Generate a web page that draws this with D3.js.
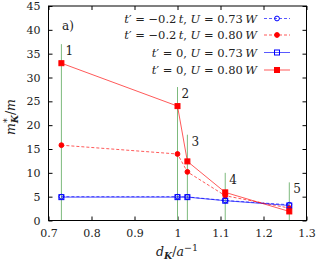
<!DOCTYPE html>
<html>
<head>
<meta charset="utf-8">
<script src="https://cdn.jsdelivr.net/npm/d3@7"></script>
<style>
  body { margin: 0; background: #fff; }
  svg text { font-family: "DejaVu Serif", serif !important; }
</style>
</head>
<body>
<div class="canva"></div>
<script>
// distances d_K (a^-1) for the five K points
const dK = [0.73, 1.0, 1.023, 1.111, 1.26];
const pointLabels = ["1", "2", "3", "4", "5"];
const markerTops = [37, 28, 18, 10, 8];

const massTm02U073 = [5.0, 5.0, 4.95, 4.2, 3.3];
const massTm02U080 = [15.8, 13.95, 10.2, 5.2, 2.6];
const massT0U073 = [4.9, 4.9, 4.9, 4.15, 3.15];
const massT0U080 = [33.0, 24.0, 12.4, 5.9, 1.9];

const xTicks = [0.7, 0.8, 0.9, 1, 1.1, 1.2, 1.3];
const yTicks = [0, 5, 10, 15, 20, 25, 30, 35, 40, 45];

const series = [
    {tp: "\u22120.2\u2009", tUnit: true, u: "0.73", values: massTm02U073, color: "#0000ff", dash: "3,2", symbol: "circle", filled: false},
    {tp: "\u22120.2\u2009", tUnit: true, u: "0.80", values: massTm02U080, color: "#ff0000", dash: "3,2", symbol: "circle", filled: true},
    {tp: "0", tUnit: false, u: "0.73", values: massT0U073, color: "#0000ff", dash: null, symbol: "square", filled: false},
    {tp: "0", tUnit: false, u: "0.80", values: massT0U080, color: "#ff0000", dash: null, symbol: "square", filled: true}
];

const svg = d3.select(".canva").append("svg")
    .attr("width", 318)
    .attr("height", 264);

const margin = {top: 6, right: 11.5, bottom: 43.5, left: 48.5};
const width = 318 - margin.left - margin.right;
const height = 264 - margin.top - margin.bottom;

const graph = svg.append("g")
    .attr("transform", `translate(${margin.left}, ${margin.top})`);

const x = d3.scaleLinear().domain([0.7, 1.3]).range([0, width]);
const y = d3.scaleLinear().domain([0, 45]).range([height, 0]);

// axes with inward ticks, mirrored on top and right
const styleAxis = g => {
    g.select(".domain").remove();
    g.selectAll(".tick line").attr("stroke", "#000");
    g.selectAll("text").style("font-size", "11px").attr("fill", "#222");
};

graph.append("g")
    .attr("transform", `translate(0, ${height})`)
    .call(d3.axisBottom(x).tickValues(xTicks).tickSize(-4).tickPadding(9)
        .tickFormat(d => d3.format("")(+d.toFixed(1))))
    .call(styleAxis);

graph.append("g")
    .call(d3.axisTop(x).tickValues(xTicks).tickSize(-4).tickFormat(""))
    .call(styleAxis);

graph.append("g")
    .call(d3.axisLeft(y).tickValues(yTicks).tickSize(-4).tickPadding(8))
    .call(styleAxis);

graph.append("g")
    .attr("transform", `translate(${width}, 0)`)
    .call(d3.axisRight(y).tickValues(yTicks).tickSize(-4).tickFormat(""))
    .call(styleAxis);

// vertical markers of the K points
graph.selectAll(".kline")
    .data(dK)
    .enter()
    .append("line")
    .attr("class", "kline")
    .attr("x1", d => x(d))
    .attr("x2", d => x(d))
    .attr("y1", y(0))
    .attr("y2", (d, i) => y(markerTops[i]))
    .attr("stroke", "#7dba7d")
    .attr("stroke-width", 1);

graph.selectAll(".klabel")
    .data(dK)
    .enter()
    .append("text")
    .attr("class", "klabel")
    .attr("x", d => x(d) + 4)
    .attr("y", (d, i) => y(markerTops[i]) + 11)
    .attr("fill", "#222")
    .style("font-size", "12px")
    .text((d, i) => pointLabels[i]);

const line = d3.line()
    .x((d, i) => x(dK[i]))
    .y(d => y(d));

const drawSymbol = (sel, s, px, py) => {
    if (s.symbol === "circle") {
        sel.append("circle")
            .attr("cx", px).attr("cy", py).attr("r", 2.4)
            .attr("fill", s.filled ? s.color : "none")
            .attr("stroke", s.color).attr("stroke-width", 1);
    } else {
        sel.append("rect")
            .attr("x", px - 2.5).attr("y", py - 2.5)
            .attr("width", 5).attr("height", 5)
            .attr("fill", s.filled ? s.color : "none")
            .attr("stroke", s.color).attr("stroke-width", 1);
    }
};

series.forEach(s => {
    graph.append("path")
        .datum(s.values)
        .attr("d", line)
        .attr("fill", "none")
        .attr("stroke", s.color)
        .attr("stroke-opacity", 0.65)
        .attr("stroke-width", 1)
        .attr("stroke-dasharray", s.dash);
    const g = graph.append("g");
    s.values.forEach((v, i) => drawSymbol(g, s, x(dK[i]), y(v)));
});

// frame
graph.append("rect")
    .attr("width", width)
    .attr("height", height)
    .attr("fill", "none")
    .attr("stroke", "#000")
    .attr("stroke-width", 1);

// legend
const legendY = [18.5, 35, 52.5, 70];
series.forEach((s, i) => {
    const ly = legendY[i];
    const t = svg.append("text")
        .attr("x", 257)
        .attr("y", ly + 4)
        .attr("text-anchor", "end")
        .attr("fill", "#222")
        .style("font-size", "11.5px");
    t.append("tspan").style("font-style", "italic").text("t");
    t.append("tspan").text("\u2032 = " + s.tp);
    if (s.tUnit) t.append("tspan").style("font-style", "italic").text("t");
    t.append("tspan").text(", ");
    t.append("tspan").style("font-style", "italic").text("U");
    t.append("tspan").text(" = " + s.u + "\u2009");
    t.append("tspan").style("font-style", "italic").text("W");

    svg.append("line")
        .attr("x1", 264).attr("x2", 290)
        .attr("y1", ly).attr("y2", ly)
        .attr("stroke", s.color)
        .attr("stroke-opacity", 0.65)
        .attr("stroke-dasharray", s.dash);
    drawSymbol(svg.append("g"), s, 277, ly);
});

svg.append("text")
    .attr("x", 62)
    .attr("y", 30)
    .attr("fill", "#222")
    .style("font-size", "12px")
    .text("a)");

// axis titles
const yt = svg.append("text")
    .attr("transform", "translate(15, 117) rotate(-90)")
    .attr("text-anchor", "middle")
    .attr("fill", "#222")
    .style("font-size", "12.5px");
yt.append("tspan").style("font-style", "italic").text("m");
yt.append("tspan").attr("dy", -5).style("font-size", "9.5px").text("*");
yt.append("tspan").attr("dx", -5).attr("dy", 8).style("font-size", "9.5px").style("font-weight", "bold").style("font-style", "italic").text("K");
yt.append("tspan").attr("dy", -3).text("/");
yt.append("tspan").style("font-style", "italic").text("m");

const xt = svg.append("text")
    .attr("x", 177)
    .attr("y", 256)
    .attr("text-anchor", "middle")
    .attr("fill", "#222")
    .style("font-size", "12.5px");
xt.append("tspan").style("font-style", "italic").text("d");
xt.append("tspan").attr("dy", 3).style("font-size", "9.5px").style("font-weight", "bold").style("font-style", "italic").text("K");
xt.append("tspan").attr("dy", -3).text("/");
xt.append("tspan").style("font-style", "italic").text("a");
xt.append("tspan").attr("dy", -5).style("font-size", "9.5px").text("\u22121");
</script>
</body>
</html>
